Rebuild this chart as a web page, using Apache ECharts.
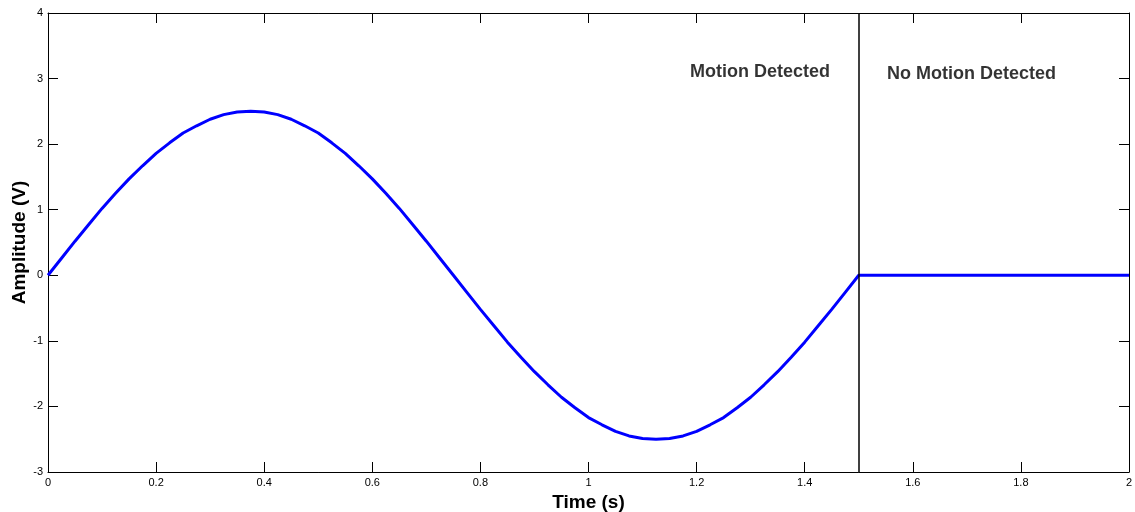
<!DOCTYPE html>
<html><head><meta charset="utf-8">
<script src="https://cdn.jsdelivr.net/npm/echarts@6/dist/echarts.min.js"></script>
<style>html,body{margin:0;padding:0;background:#fff}#c{width:1135px;height:512px}</style>
</head><body><div id="c"></div>
<script>
const timeS = [0,0.025,0.05,0.075,0.1,0.125,0.15,0.175,0.2,0.225,0.25,0.275,0.3,0.325,0.35,0.375,0.4,0.425,0.45,0.475,0.5,0.525,0.55,0.575,0.6,0.625,0.65,0.675,0.7,0.725,0.75,
  0.775,0.8,0.825,0.85,0.875,0.9,0.925,0.95,0.975,1.0,1.025,1.05,1.075,1.1,1.125,1.15,1.175,1.2,1.225,1.25,1.275,1.3,1.325,1.35,1.375,1.4,1.425,1.45,1.475,1.5,1.75,2.0];
const amplitudeV = [0,0.26,0.52,0.77,1.02,1.25,1.47,1.67,1.86,2.02,2.17,2.28,2.38,2.45,2.49,2.5,2.49,2.45,2.38,2.28,2.17,2.02,1.86,1.67,1.47,1.25,1.02,0.77,0.52,0.26,0,
  -0.26,-0.52,-0.77,-1.02,-1.25,-1.47,-1.67,-1.86,-2.02,-2.17,-2.28,-2.38,-2.45,-2.49,-2.5,-2.49,-2.45,-2.38,-2.28,-2.17,-2.02,-1.86,-1.67,-1.47,-1.25,-1.02,-0.77,-0.52,-0.26,0,0,0];
const markerX = 1.5;
const labels = [{x:1.3175, y:3.1, text:'Motion Detected'},{x:1.7085, y:3.07, text:'No Motion Detected'}];

const chart = echarts.init(document.getElementById('c'));
const axCommon = {
  axisLine:{show:true,onZero:false,lineStyle:{color:'#000',width:1}},
  axisTick:{show:true,inside:true,length:10,lineStyle:{color:'#000'}},
  splitLine:{show:false}
};
chart.setOption({
  animation:false,
  grid:{left:48,right:6,top:13,bottom:40,containLabel:false,outerBoundsMode:'none'},
  xAxis:[
    Object.assign({type:'value',min:0,max:2,interval:0.2,position:'bottom',
      name:'Time (s)',nameLocation:'middle',nameGap:21,nameMoveOverlap:false,
      nameTextStyle:{fontFamily:'Liberation Sans',fontWeight:'bold',fontSize:19,color:'#000'},
      axisLabel:{fontFamily:'Liberation Sans',fontSize:11,color:'#000',margin:5,
        formatter:v=>String(Math.round(v*10)/10)}},axCommon),
    Object.assign({type:'value',min:0,max:2,interval:0.2,position:'top',axisLabel:{show:false}},axCommon)
  ],
  yAxis:[
    Object.assign({type:'value',min:-3,max:4,interval:1,position:'left',
      name:'Amplitude (V)',nameLocation:'middle',nameGap:19,nameRotate:90,nameMoveOverlap:false,
      nameTextStyle:{fontFamily:'Liberation Sans',fontWeight:'bold',fontSize:19,color:'#000'},
      axisLabel:{fontFamily:'Liberation Sans',fontSize:11,color:'#000',margin:5}},axCommon),
    Object.assign({type:'value',min:-3,max:4,interval:1,position:'right',axisLabel:{show:false}},axCommon)
  ],
  series:[
    {type:'line',data:timeS.map((t,i)=>[t,amplitudeV[i]]),smooth:false,showSymbol:false,
     lineStyle:{color:'#0000ff',width:3},
     markLine:{silent:true,symbol:'none',label:{show:false},
       lineStyle:{color:'#000',width:1.5,type:'solid'},data:[{xAxis:markerX}]}},
    {type:'scatter',data:labels.map(l=>[l.x,l.y,l.text]),symbolSize:0,
     label:{show:true,position:'inside',formatter:p=>p.data[2],
       fontFamily:'Liberation Sans',fontWeight:'bold',fontSize:18,color:'#000'}}
  ]
});
</script></body></html>
